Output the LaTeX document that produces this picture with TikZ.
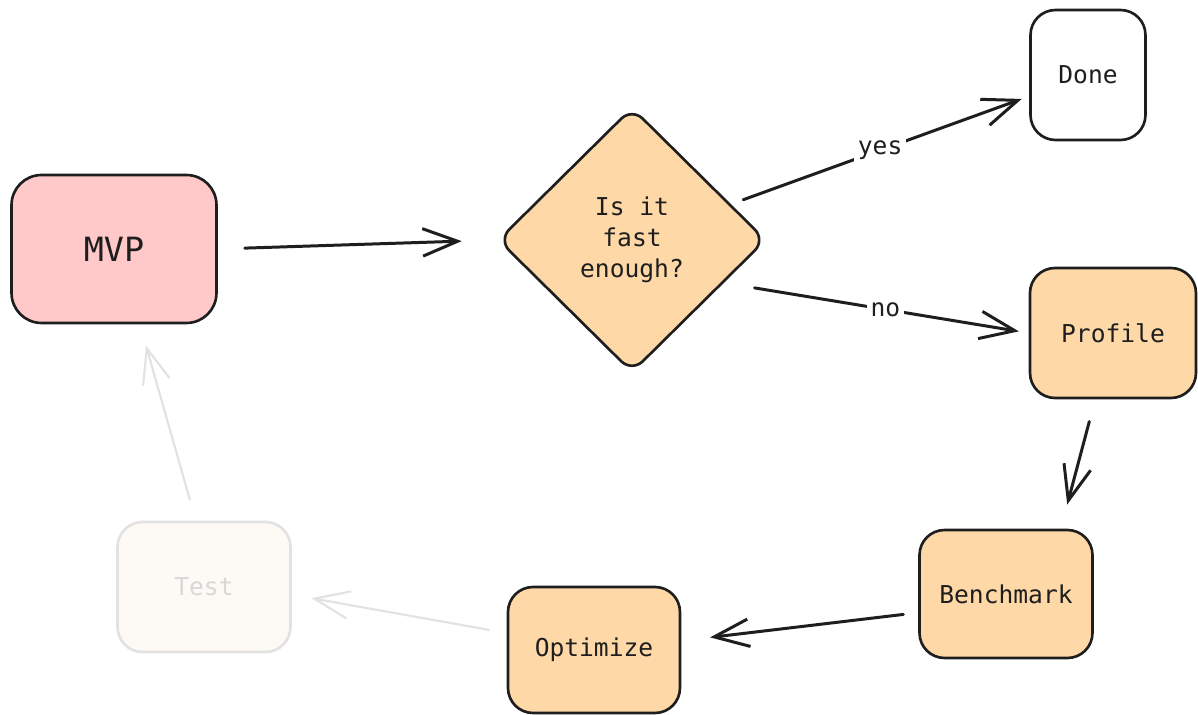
\documentclass[tikz,border=0pt]{standalone}
\usepackage{fontspec}
\setmonofont{DejaVu Sans Mono}
\usetikzlibrary{shapes.geometric,arrows.meta}

\definecolor{ink}{HTML}{1E1E1E}
\definecolor{mvppink}{HTML}{FFC9C9}
\definecolor{stepfill}{HTML}{FFD8A8}
\definecolor{fadeline}{HTML}{E2E2E2}
\definecolor{fadefill}{HTML}{FDF9F4}
\definecolor{fadetext}{HTML}{D8D8D8}

\begin{document}
\begin{tikzpicture}[x=0.02cm, y=-0.02cm, line cap=round, line join=round,
  every node/.style={font=\ttfamily\fontsize{14}{17.6}\selectfont, text=ink},
  box/.style={draw=ink, line width=1.5pt, rounded corners=0.5cm, align=center, inner sep=0pt},
  check/.style={diamond, aspect=1, draw=ink, fill=stepfill, line width=1.5pt, rounded corners=0.3cm,
    minimum width=5.36cm, minimum height=5.3cm, align=center, inner sep=0pt},
  arr/.style={-{Straight Barb[length=0.7cm,width=0.55cm]}, draw=ink, line width=1.7pt},
  faded/.style={draw=fadeline, line width=1.2pt},
  lbl/.style={fill=white, inner sep=2pt}]

\useasboundingbox (0,0) rectangle (1198,715);
\fill[white] (0,0) rectangle (1198,715);

% the loop of steps
\node[box, fill=mvppink, rounded corners=0.6cm, minimum width=4.1cm, minimum height=2.96cm,
  font=\ttfamily\fontsize{19}{22}\selectfont] (mvp) at (114,249) {MVP};
\node[check] (fast) at (632,240) {Is it\\fast\\enough?};
\node[box, fill=white, minimum width=2.3cm, minimum height=2.6cm] (done) at (1088,75) {Done};
\node[box, fill=stepfill, minimum width=3.32cm, minimum height=2.6cm] (prof) at (1113,333) {Profile};
\node[box, fill=stepfill, minimum width=3.46cm, minimum height=2.56cm] (bench) at (1006,594) {Benchmark};
\node[box, fill=stepfill, minimum width=3.44cm, minimum height=2.52cm] (opt) at (594,650) {Optimize};
\node[box, draw=fadeline, fill=fadefill, text=fadetext, minimum width=3.46cm, minimum height=2.6cm] (test) at (204,587) {Test};

% arrows
\draw[arr, shorten <=0.54cm, shorten >=0.7cm] (mvp.east) -- (fast.west);
\draw[arr, shorten <=0.26cm, shorten >=0.16cm] (fast) -- node[lbl] {yes} (done);
\draw[arr, shorten <=0.62cm, shorten >=0.2cm] (fast.-25) -- node[lbl, pos=0.53] {no} (prof.west);
\draw[arr, shorten <=0.46cm, shorten >=0.5cm] (prof.-105) -- (bench.50);
\draw[arr, shorten <=0.3cm, shorten >=0.58cm] (bench.192) -- (opt.6);

% the faded way back
\draw[arr, faded, shorten <=0.36cm, shorten >=0.4cm] (opt.169) -- (test.-5);
\draw[arr, faded, shorten <=0.44cm, shorten >=0.44cm] (test.97) -- (mvp.-71);

\end{tikzpicture}
\end{document}
